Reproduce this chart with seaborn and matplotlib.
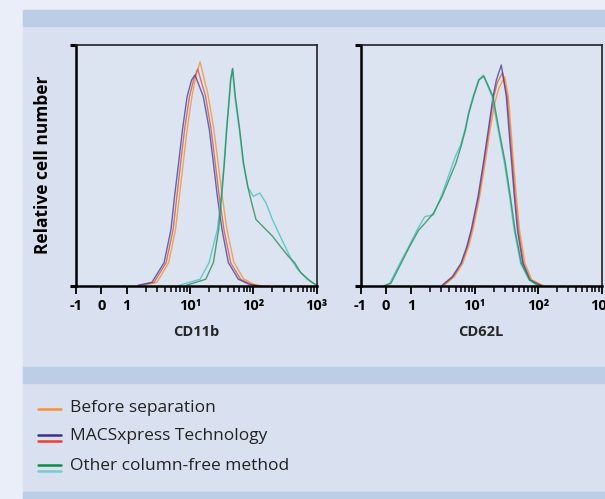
import numpy as np
import pandas as pd
import seaborn as sns
import matplotlib.pyplot as plt
from matplotlib.patches import Rectangle
from matplotlib.lines import Line2D

# ---- data (x = fluorescence, y = % of axis height) ----
# CD11b panel
cd11b_purple_x = [1.5, 2.5, 3.9, 5.0, 5.7, 6.6, 7.6, 9.0, 10.6, 12.0, 16.2, 20.2, 23.4, 27.0, 32.0, 40.3, 58, 84, 115]
cd11b_purple_y = [0.3, 1.5, 9.7, 23.4, 37.2, 51, 64.8, 78.6, 85.5, 87.6, 78.6, 64.8, 51, 37.2, 23.4, 9.7, 2.8, 0.8, 0]
cd11b_red_x = [1.6, 2.7, 4.2, 5.4, 6.2, 7.1, 8.2, 9.8, 11.5, 13.2, 17.5, 21.5, 25, 29, 34.5, 44, 63, 90, 125]
cd11b_red_y = [0.3, 1.5, 9.7, 23.4, 37.2, 51, 64.8, 78.6, 86, 90, 79, 65, 51, 37, 23, 9.5, 2.8, 0.8, 0]
cd11b_orange_x = [1.8, 3.0, 4.6, 5.9, 6.8, 7.8, 9.0, 10.7, 12.6, 14.4, 19, 23.5, 27.5, 32, 38, 49, 70, 100, 140]
cd11b_orange_y = [0.3, 1.5, 9.7, 23.4, 37.2, 51, 64.8, 78.6, 88, 93, 80, 66, 52, 38, 24, 10, 3, 0.8, 0]
cd11b_green_x = [8.8, 17.7, 23.4, 28.3, 31.6, 34.9, 38, 42, 44, 47.2, 52, 61, 70, 82, 94, 110, 140, 200, 266, 355, 447, 562, 794, 1000]
cd11b_green_y = [0.3, 2.8, 9.7, 23.4, 37.2, 51, 64.8, 78.6, 85.5, 90.3, 78.6, 64.8, 51, 41, 34.5, 27.6, 24.8, 20.7, 16.5, 12.4, 9.7, 5.5, 2, 0.3]
cd11b_cyan_x = [6.8, 14.4, 20, 27, 31, 34.5, 37.5, 41.5, 43.5, 46.5, 51, 60, 69, 82, 100, 126, 158, 200, 251, 316, 398, 500, 708, 940]
cd11b_cyan_y = [0.3, 2.8, 9.7, 23.4, 37.2, 51, 64.8, 78.6, 85.5, 90, 78.6, 64.8, 51, 41, 37.2, 38.6, 34.5, 27.6, 22, 16.5, 11, 6.9, 2.8, 0.7]

# CD62L panel
cd62l_green_x = [-0.07, 0.2, 0.6, 0.93, 1.31, 1.64, 2.24, 3.07, 3.93, 5.05, 6.08, 7.15, 8.09, 9.63, 11.7, 14.0, 19.5, 24.2, 30.5, 36.6, 43.3, 54.6, 73.9, 106]
cd62l_green_y = [0, 1.1, 9.4, 16.3, 23.2, 26, 30.2, 37.1, 44, 50.9, 57.8, 64.7, 71.6, 78.6, 85.5, 87.1, 78.6, 64.7, 50.9, 37.1, 23.2, 9.4, 2.5, 0]
cd62l_cyan_x = [-0.1, 0.15, 0.55, 0.9, 1.28, 1.64, 2.24, 3.0, 3.85, 4.95, 6.0, 7.05, 8.0, 9.5, 11.5, 13.6, 18.8, 23.5, 29.5, 35.5, 42, 53, 72, 100]
cd62l_cyan_y = [0, 1.1, 9.4, 16.3, 24, 28.8, 29.5, 37.5, 45.5, 53.7, 58.5, 65, 72, 79, 85.5, 87.5, 78.6, 64.7, 50.9, 37.1, 23.2, 9.4, 2.5, 0]
cd62l_purple_x = [3.07, 4.45, 6.08, 7.5, 8.8, 11.3, 13.7, 16.4, 19.5, 22, 26.3, 31.6, 34.7, 38.3, 42.2, 47.3, 57.4, 73.9, 114]
cd62l_purple_y = [0.3, 3.9, 9.4, 16.3, 23.2, 37.1, 50.9, 64.7, 78.6, 85.5, 91.7, 78.6, 64.7, 50.9, 37.1, 23.2, 9.4, 2.5, 0]
cd62l_red_x = [3.2, 4.6, 6.2, 7.7, 9.0, 11.6, 14.0, 16.8, 20.0, 22.8, 27.5, 32.5, 35.8, 39.5, 43.5, 48.8, 59, 76, 118]
cd62l_red_y = [0.3, 3.9, 9.4, 16.3, 23.2, 37.1, 50.9, 64.7, 78.6, 84.5, 88.5, 78.6, 64.7, 50.9, 37.1, 23.2, 9.4, 2.5, 0]
cd62l_orange_x = [3.3, 4.8, 6.5, 8.0, 9.4, 12.0, 14.6, 17.5, 20.8, 24, 29.8, 34, 37.5, 41, 45.5, 51, 62, 80, 125]
cd62l_orange_y = [0.3, 3.9, 9.4, 16.3, 23.2, 37.1, 50.9, 64.7, 76, 82, 86.9, 78.6, 64.7, 50.9, 37.1, 23.2, 9.4, 2.5, 0]

tick_vals = [-1, 0, 1, 10, 100, 1000]
tick_labels = ['-1', '0', '1', '10¹', '10²', '10³']
panel_labels = ['CD11b', 'CD62L']
legend_labels = ['Before separation', 'MACSxpress Technology', 'Other column-free method']

# colours
c_orange, c_purple, c_red, c_green, c_cyan = '#f0933a', '#4b3f98', '#d9573c', '#2a8a55', '#45c2bc'
outer_bg = '#e9eef8'
panel_bg = '#d9e1f0'
band = '#bccde6'
axes_bg = '#dce4f2'

sns.set_theme(style='white')
plt.rcParams['font.family'] = ['Open Sans', 'DejaVu Sans']

W, H = 605, 499
fig = plt.figure(figsize=(6.05, 4.99), dpi=100, facecolor=outer_bg)

def fx(px):
    return px / W

def fy(py):
    return 1 - py / H

# background blocks (drawn behind the axes)
fig.patches.append(Rectangle((fx(22.7), fy(492)), 1, (492 - 26) / H, transform=fig.transFigure,
                             color=panel_bg, zorder=-10))
for top, bot in [(10, 26), (367, 383), (492, 499)]:
    fig.patches.append(Rectangle((fx(22.7), fy(bot)), 1, (bot - top) / H, transform=fig.transFigure,
                                 color=band, zorder=-9))

ax1 = fig.add_axes([fx(76), fy(286), 240.7 / W, 241 / H])
ax2 = fig.add_axes([fx(360.5), fy(286), 241 / W, 241 / H])

panels = [
    (ax1, [(cd11b_orange_x, cd11b_orange_y, c_orange), (cd11b_red_x, cd11b_red_y, c_red),
           (cd11b_purple_x, cd11b_purple_y, c_purple), (cd11b_cyan_x, cd11b_cyan_y, c_cyan),
           (cd11b_green_x, cd11b_green_y, c_green)]),
    (ax2, [(cd62l_orange_x, cd62l_orange_y, c_orange), (cd62l_red_x, cd62l_red_y, c_red),
           (cd62l_purple_x, cd62l_purple_y, c_purple), (cd62l_cyan_x, cd62l_cyan_y, c_cyan),
           (cd62l_green_x, cd62l_green_y, c_green)]),
]

minor = [m * 10 ** d for d in range(0, 3) for m in range(2, 10)]

for i, (ax, curves) in enumerate(panels):
    ax.set_facecolor(axes_bg)
    for xs, ys, col in curves:
        sns.lineplot(x=xs, y=ys, ax=ax, color=col, lw=1.0, alpha=0.8, sort=False)
    ax.set_xscale('symlog', linthresh=1, linscale=0.36)
    ax.set_xlim(-1, 1000)
    ax.set_ylim(0, 100)
    ax.set_xticks(tick_vals)
    ax.set_xticklabels(tick_labels, fontsize=10.5, fontweight='bold')
    ax.set_xticks(minor, minor=True)
    ax.set_yticks([0, 100])
    ax.set_yticklabels([])
    ax.tick_params(axis='x', which='major', direction='out', length=6, width=1.3, pad=3, colors='black', bottom=True)
    ax.tick_params(axis='x', which='minor', direction='out', length=4, width=1.1, colors='black', bottom=True)
    ax.tick_params(axis='y', direction='out', length=4, width=2.2, colors='black', left=True)
    for s in ['top', 'right']:
        ax.spines[s].set_linewidth(1.2)
        ax.spines[s].set_color('#222222')
    for s in ['left', 'bottom']:
        ax.spines[s].set_linewidth(1.8)
        ax.spines[s].set_color('black')
    ax.set_xlabel(panel_labels[i], fontsize=10.5, fontweight='bold', labelpad=9)
    ax.set_ylabel('')

fig.text(fx(43.5), fy(165), 'Relative cell number', rotation=90, ha='center', va='center',
         fontsize=12.5, fontweight='bold', color='black')

# legend
leg_rows = [409, 438, 468]
key_cols = [[c_orange], ['#3b2f8f', '#e8412c'], ['#0f8a4a', '#6fcfcf']]
for row, cols, lab in zip(leg_rows, key_cols, legend_labels):
    offs = [0] if len(cols) == 1 else [-2.9, 2.9]
    for off, col in zip(offs, cols):
        fig.add_artist(Line2D([fx(37.7), fx(60.7)], [fy(row + off), fy(row + off)],
                              transform=fig.transFigure, color=col, lw=1.8))
    fig.text(fx(70), fy(row - 1.5), lab, ha='left', va='center', fontsize=12.5, color='#222222')

fig.savefig('out.png', dpi=100, facecolor=outer_bg)
